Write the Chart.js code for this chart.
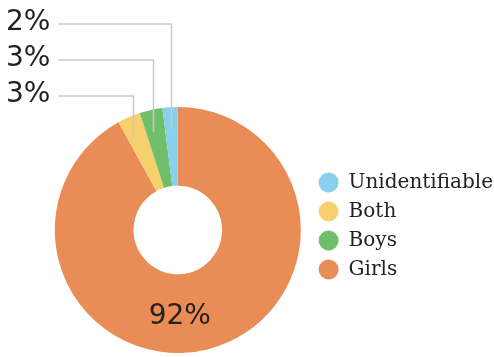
<!DOCTYPE html>
<html>
<head>
<meta charset="utf-8">
<script src="https://cdn.jsdelivr.net/npm/chart.js@4.4.1/dist/chart.umd.min.js"></script>
<style>
  html, body { margin: 0; padding: 0; background: #fff; }
  #wrap { width: 494px; height: 357px; position: relative; }
</style>
</head>
<body>
<div id="wrap"><canvas id="myChart"></canvas></div>
<script>
// who appears in the pictures, share in percent (clockwise from 12 o'clock)
const categories = ['Girls', 'Both', 'Boys', 'Unidentifiable'];
const shares = [92, 3, 3, 2];
const colors = ['#EA8C55', '#F7D06E', '#6FBE69', '#88D0EC'];
// legend reads top to bottom in this order
const legendOrder = ['Unidentifiable', 'Both', 'Boys', 'Girls'];
// small slices that get a leader line, top row first
const calloutOrder = [3, 2, 1];

const leaderLines = {
    id: 'leaderLines',
    afterLayout(chart, args, opts) {
        // move the legend box a bit, the donut stays where it is
        const lg = chart.legend;
        lg.top -= opts.legendLift;
        lg.bottom -= opts.legendLift;
        lg.left += opts.legendShift;
        lg.right += opts.legendShift;
    },
    afterDraw(chart, args, opts) {
        const ctx = chart.ctx;
        const meta = chart.getDatasetMeta(0);
        ctx.save();
        ctx.font = opts.font;
        ctx.textBaseline = 'middle';
        ctx.textAlign = 'left';

        opts.order.forEach((idx, row) => {
            const arc = meta.data[idx];
            const p = arc.getProps(['x', 'y', 'startAngle', 'endAngle', 'outerRadius'], true);
            const mid = (p.startAngle + p.endAngle) / 2;
            const r = p.outerRadius - opts.inset;
            const ax = p.x + Math.cos(mid) * r;
            const ay = p.y + Math.sin(mid) * r + opts.drop;
            const ty = opts.rows[row];
            const txt = shares[idx] + '%';

            ctx.fillStyle = '#222';
            ctx.fillText(txt, opts.left, ty);
            const w = ctx.measureText(txt).width;

            ctx.strokeStyle = '#c9c9c9';
            ctx.lineWidth = 1.5;
            ctx.beginPath();
            ctx.moveTo(opts.left + w + 8, ty + 1);
            ctx.lineTo(Math.round(ax) + 0.5, ty + 1);
            ctx.lineTo(Math.round(ax) + 0.5, ay);
            ctx.stroke();
        });

        // big slice label, below the hole
        const big = meta.data[0].getProps(['x', 'y', 'innerRadius', 'outerRadius'], true);
        ctx.textAlign = 'center';
        ctx.fillStyle = '#222';
        ctx.fillText(shares[0] + '%', big.x + 2, big.y + (big.innerRadius + big.outerRadius) / 2 + 3);
        ctx.restore();
    }
};

const ctx = document.getElementById('myChart');
new Chart(ctx, {
    type: 'doughnut',
    data: {
        labels: categories,
        datasets: [{
            data: shares,
            backgroundColor: colors,
            borderWidth: 0
        }]
    },
    options: {
        responsive: true,
        maintainAspectRatio: false,
        animation: false,
        cutout: '36%',
        layout: {
            padding: { top: 107, left: 51, right: -4, bottom: 4 }
        },
        plugins: {
            tooltip: { enabled: false },
            legend: {
                position: 'right',
                labels: {
                    usePointStyle: true,
                    pointStyle: 'circle',
                    pointStyleWidth: 20,
                    boxHeight: 14,
                    padding: 9,
                    color: '#222',
                    font: { family: 'DejaVu Serif', size: 20 },
                    sort: (a, b) => legendOrder.indexOf(a.text) - legendOrder.indexOf(b.text)
                }
            },
            leaderLines: {
                order: calloutOrder,
                rows: [23, 59, 95],
                left: 6,
                inset: 10,
                drop: 12,
                legendLift: 4,
                legendShift: 5,
                font: '28px "DejaVu Sans"'
            }
        }
    },
    plugins: [leaderLines]
});
</script>
</body>
</html>
